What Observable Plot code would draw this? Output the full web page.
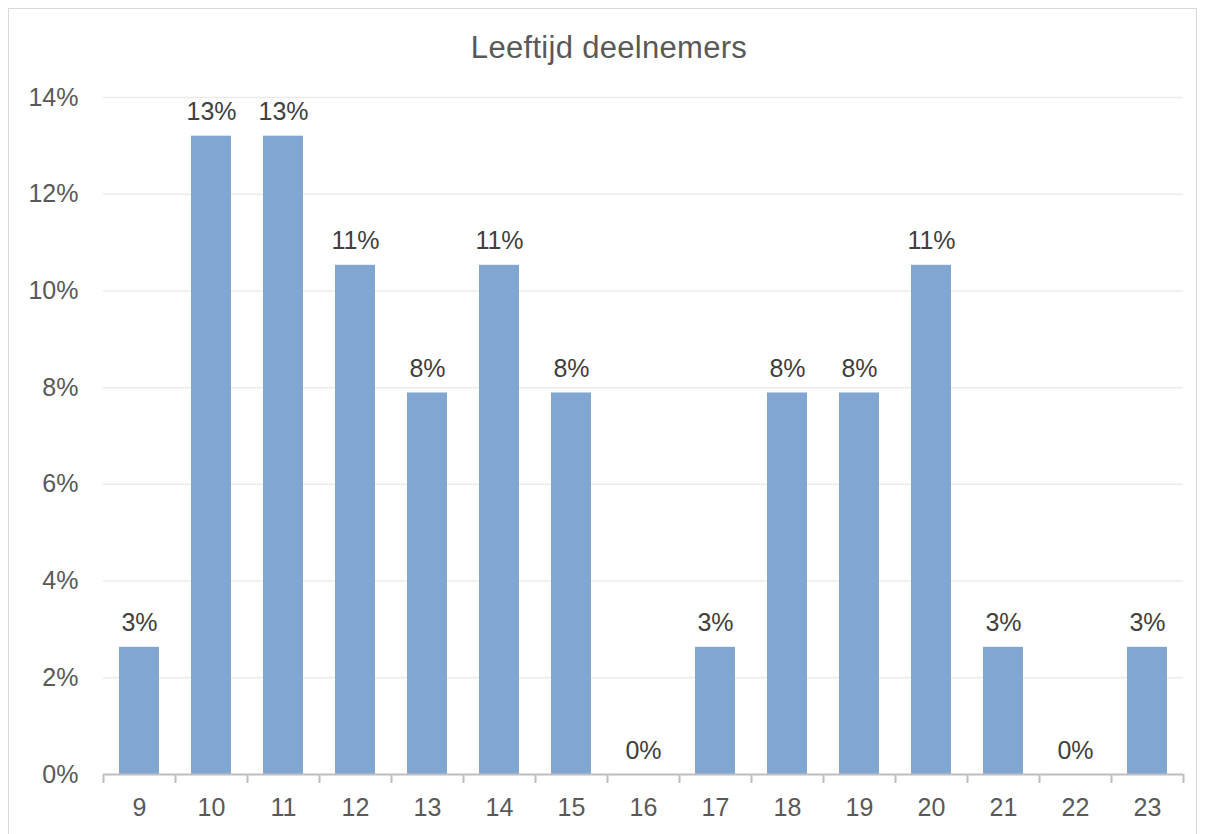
<!DOCTYPE html>
<html>
<head>
<meta charset="utf-8">
<script src="https://cdn.jsdelivr.net/npm/d3@7"></script>
<script src="https://cdn.jsdelivr.net/npm/@observablehq/plot@0.6"></script>
<style>
  body { margin: 0; background: #fff; font-family: "Liberation Sans", Arial, sans-serif; }
  #wrap { position: relative; width: 1206px; height: 834px; overflow: hidden; }
  #frame { position: absolute; left: 8px; top: 8px; width: 1189px; height: 830px; border: 1px solid #d9d9d9; box-sizing: border-box; }
  #title { position: absolute; left: 0; width: 1218px; top: 32px; line-height: 31px; text-align: center; font-size: 31px; letter-spacing: 0.3px; color: #595959; }
  #chart { position: absolute; left: 0; top: 0; }
</style>
</head>
<body>
<div id="wrap">
  <div id="frame"></div>
  <div id="title">Leeftijd deelnemers</div>
  <div id="chart"></div>
</div>
<script>
const ages = ["9","10","11","12","13","14","15","16","17","18","19","20","21","22","23"];
const percents = [2.63,13.2,13.2,10.53,7.89,10.53,7.89,0,2.63,7.89,7.89,10.53,2.63,0,2.63];
const yTicks = [0,2,4,6,8,10,12,14];

const data = ages.map((a, i) => ({age: a, value: percents[i]}));
const fmt = v => Math.round(v) + "%";

const plot = Plot.plot({
  width: 1206,
  height: 834,
  marginLeft: 103,
  marginRight: 23,
  marginTop: 97,
  marginBottom: 60,
  style: {fontFamily: "'Liberation Sans', Arial, sans-serif", fontSize: "25px", background: "transparent"},
  x: {domain: ages, paddingInner: 0.44, paddingOuter: 0.22, align: 0.5, label: null},
  y: {domain: [0, 14], label: null},
  marks: [
    Plot.gridY(yTicks, {stroke: "#ebebeb", strokeOpacity: 1, strokeWidth: 1.5}),
    Plot.axisY(yTicks, {tickSize: 0, tickPadding: 25, tickFormat: fmt, fill: "#595959", fontSize: 25, label: null}),
    Plot.barY(data, {x: "age", y: "value", fill: "#81a6d1"}),
    Plot.ruleY([0], {stroke: "#bfbfbf", strokeWidth: 2}),
    Plot.axisX({tickSize: 9, text: null, dx: -36, stroke: "#bfbfbf", strokeWidth: 2, label: null}),
    Plot.axisX(["23"], {tickSize: 9, text: null, dx: 36, stroke: "#bfbfbf", strokeWidth: 2, label: null}),
    Plot.axisX({tickSize: 0, tickPadding: 24, fill: "#595959", fontSize: 25, label: null}),
    Plot.text(data, {x: "age", y: "value", text: d => fmt(d.value), dy: -16, lineAnchor: "bottom", fill: "#404040", fontSize: 25})
  ]
});
document.getElementById("chart").appendChild(plot);
</script>
</body>
</html>
